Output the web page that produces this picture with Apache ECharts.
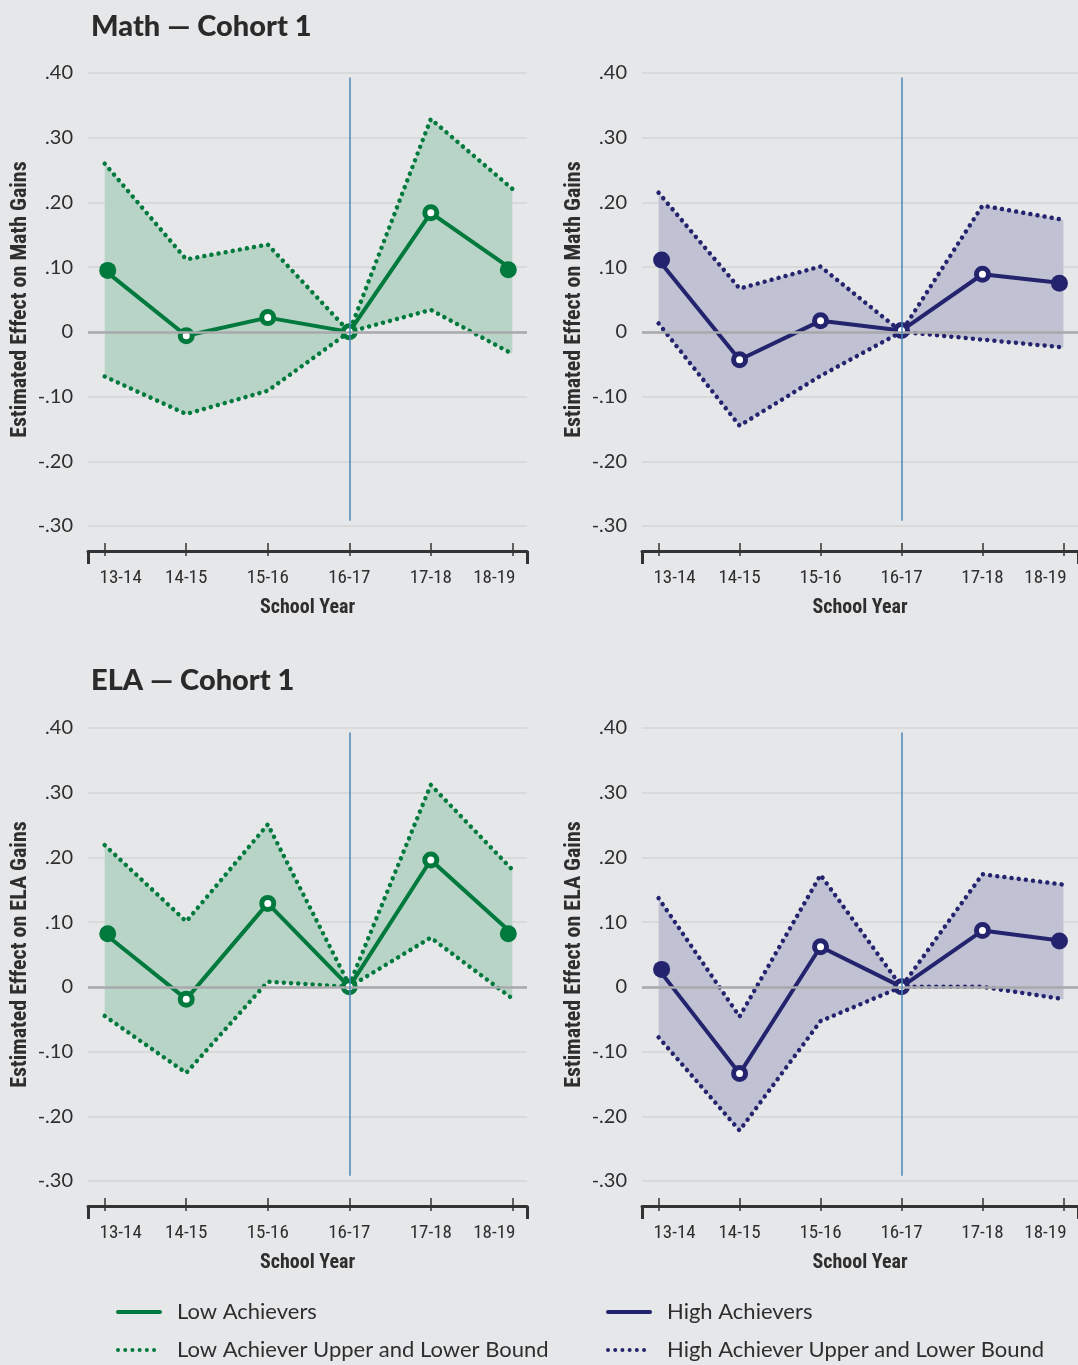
<!DOCTYPE html>
<html>
<head>
<meta charset="utf-8">
<script src="https://cdn.jsdelivr.net/npm/echarts@6/dist/echarts.min.js"></script>
<style>
html,body{margin:0;padding:0;background:#e6e7e9;}
#chart{width:1078px;height:1365px;}
</style>
</head>
<body>
<div id="chart"></div>
<script>
// ---------- DATA ----------
const categories = ['13-14', '14-15', '15-16', '16-17', '17-18', '18-19'];
const yTickValues = [-0.3, -0.2, -0.1, 0, 0.1, 0.2, 0.3, 0.4];
const yTickLabels = ['-.30', '-.20', '-.10', '0', '.10', '.20', '.30', '.40'];

const mathLowEst   = [0.095, -0.006, 0.022, 0.000, 0.184, 0.096];
const mathLowUpper = [0.260, 0.112, 0.135, 0.000, 0.329, 0.221];
const mathLowLower = [-0.069, -0.127, -0.091, 0.000, 0.034, -0.034];

const mathHighEst   = [0.111, -0.043, 0.017, 0.002, 0.089, 0.075];
const mathHighUpper = [0.215, 0.067, 0.101, 0.000, 0.195, 0.173];
const mathHighLower = [0.013, -0.145, -0.068, 0.000, -0.012, -0.024];

const elaLowEst   = [0.082, -0.019, 0.129, 0.000, 0.196, 0.082];
const elaLowUpper = [0.219, 0.101, 0.251, 0.003, 0.312, 0.181];
const elaLowLower = [-0.045, -0.133, 0.008, 0.000, 0.076, -0.018];

const elaHighEst   = [0.027, -0.134, 0.062, 0.000, 0.087, 0.071];
const elaHighUpper = [0.137, -0.046, 0.173, 0.000, 0.174, 0.158];
const elaHighLower = [-0.078, -0.222, -0.053, 0.000, 0.000, -0.019];

const titles = ['Math — Cohort 1', 'ELA — Cohort 1'];
const yNames = ['Estimated Effect on Math Gains', 'Estimated Effect on ELA Gains'];
const xName = 'School Year';
const legendLow = ['Low Achievers', 'Low Achiever Upper and Lower Bound'];
const legendHigh = ['High Achievers', 'High Achiever Upper and Lower Bound'];

// ---------- STYLE ----------
const GREEN = '#00793d', GREEN_BAND = '#b8d4c7';
const NAVY = '#24246e', NAVY_BAND = '#c0c1d3';
const TXT = '#2e2e2e';
const NARROW = '"Liberation Sans Narrow", "Roboto Condensed", "DejaVu Sans Condensed", sans-serif';
const XMIN = -0.205, XMAX = 5.18;
const DOTS = [0.01, 7.2];
const DOT_W = 4.5;

const panels = [
  {left: 88,  top: 73,  est: mathLowEst,  up: mathLowUpper,  lo: mathLowLower,  c: GREEN, band: GREEN_BAND, yName: yNames[0]},
  {left: 642, top: 73,  est: mathHighEst, up: mathHighUpper, lo: mathHighLower, c: NAVY,  band: NAVY_BAND,  yName: yNames[0]},
  {left: 88,  top: 728, est: elaLowEst,   up: elaLowUpper,   lo: elaLowLower,   c: GREEN, band: GREEN_BAND, yName: yNames[1]},
  {left: 642, top: 728, est: elaHighEst,  up: elaHighUpper,  lo: elaHighLower,  c: NAVY,  band: NAVY_BAND,  yName: yNames[1]}
];

const xs = categories.map((_, i) => i);
const fmtY = v => {
  const i = yTickValues.findIndex(t => Math.abs(t - v) < 1e-6);
  return i >= 0 ? yTickLabels[i] : '';
};
const fmtX = v => {
  const i = Math.round(v);
  if (i === 0) return '{first|' + categories[i] + '}';
  if (i === categories.length - 1) return '{last|' + categories[i] + '}';
  return '{mid|' + categories[i] + '}';
};
const xLabelFont = {fontFamily: NARROW, fontSize: 19, color: TXT};

const grid = [], xAxis = [], yAxis = [], series = [];
panels.forEach((p, g) => {
  grid.push({left: p.left, top: p.top, width: 439, height: 453, containLabel: false});
  const base = {gridIndex: g, type: 'value', min: XMIN, max: XMAX, position: 'bottom', offset: 25,
    splitLine: {show: false}};
  xAxis.push(Object.assign({}, base, {
    axisLine: {show: true, onZero: false, lineStyle: {color: '#333', width: 3}},
    axisTick: {show: true, customValues: xs, inside: true, length: 8, lineStyle: {color: '#333', width: 1.5}},
    axisLabel: {show: true, customValues: xs, formatter: fmtX, margin: 18,
      rich: {
        first: Object.assign({padding: [0, 0, 0, 32]}, xLabelFont),
        mid: Object.assign({}, xLabelFont),
        last: Object.assign({padding: [0, 36, 0, 0]}, xLabelFont)
      }},
    name: xName, nameLocation: 'middle', nameGap: 47,
    nameTextStyle: {fontFamily: NARROW, fontWeight: 'bold', fontSize: 20, color: TXT}
  }));
  xAxis.push(Object.assign({}, base, {
    axisLine: {show: false, onZero: false},
    axisTick: {show: true, customValues: xs, inside: false, length: 5, lineStyle: {color: '#333', width: 1.5}},
    axisLabel: {show: false}
  }));
  xAxis.push(Object.assign({}, base, {
    axisLine: {show: false, onZero: false},
    axisTick: {show: true, customValues: [XMIN, XMAX], inside: false, length: 13, lineStyle: {color: '#333', width: 3}},
    axisLabel: {show: false}
  }));
  yAxis.push({
    gridIndex: g, type: 'value', min: -0.3, max: 0.4, interval: 0.1,
    axisLine: {show: false}, axisTick: {show: false},
    splitLine: {show: true, lineStyle: {color: '#d3d4d6', width: 1.5}},
    axisLabel: {formatter: fmtY, margin: 15, fontFamily: 'Lato', fontSize: 20, color: TXT},
    name: p.yName, nameLocation: 'middle', nameGap: 57,
    nameTextStyle: {fontFamily: NARROW, fontWeight: 'bold', fontSize: 22, color: TXT}
  });
  const xi = g * 3;
  // confidence band polygon (upper edge then lower edge, via axis scales)
  series.push({type: 'custom', xAxisIndex: xi, yAxisIndex: g, z: 1, silent: true,
    data: [[0, p.up[0]]],
    renderItem: (params, api) => {
      const top = xs.map(i => api.coord([i, p.up[i]]));
      const bot = xs.map(i => api.coord([i, p.lo[i]])).reverse();
      return {type: 'polygon', shape: {points: top.concat(bot)}, style: {fill: p.band}, silent: true};
    }});
  // reference lines
  series.push({type: 'line', xAxisIndex: xi, yAxisIndex: g, data: [], silent: true, z: 2,
    markLine: {silent: true, symbol: ['none', 'none'], label: {show: false}, animation: false,
      data: [
        {yAxis: 0, lineStyle: {color: '#a8a9ab', width: 2.5, type: 'solid'}},
        [{coord: [3, 0.393], lineStyle: {color: '#4a86b4', width: 1.5, type: 'solid'}}, {coord: [3, -0.292]}]
      ]}});
  // bounds
  [p.up, p.lo].forEach(arr => {
    series.push({type: 'line', xAxisIndex: xi, yAxisIndex: g, data: xs.map(i => [i, arr[i]]),
      symbol: 'none', silent: true, z: 3,
      lineStyle: {color: p.c, width: DOT_W, type: DOTS, cap: 'round'}});
  });
  // estimate
  series.push({type: 'line', xAxisIndex: xi, yAxisIndex: g, z: 4, silent: true, showAllSymbol: true,
    lineStyle: {color: p.c, width: 4}, itemStyle: {color: p.c},
    data: xs.map(i => {
      const end = (i === 0 || i === xs.length - 1);
      return end
        ? {value: [i, p.est[i]], symbol: 'circle', symbolSize: 17, symbolOffset: [i === 0 ? 3 : -4, 0],
           itemStyle: {color: p.c, borderWidth: 0}}
        : {value: [i, p.est[i]], symbol: 'circle', symbolSize: 12,
           itemStyle: {color: '#ffffff', borderColor: p.c, borderWidth: 5}};
    })});
});

// legend-only series
series.push({name: legendLow[0], type: 'line', xAxisIndex: 0, yAxisIndex: 0, data: [], symbol: 'none',
  lineStyle: {color: GREEN, width: 4}, itemStyle: {color: GREEN}});
series.push({name: legendLow[1], type: 'line', xAxisIndex: 0, yAxisIndex: 0, data: [], symbol: 'none',
  lineStyle: {color: GREEN, width: DOT_W, type: DOTS, cap: 'round'}, itemStyle: {color: GREEN}});
series.push({name: legendHigh[0], type: 'line', xAxisIndex: 0, yAxisIndex: 0, data: [], symbol: 'none',
  lineStyle: {color: NAVY, width: 4}, itemStyle: {color: NAVY}});
series.push({name: legendHigh[1], type: 'line', xAxisIndex: 0, yAxisIndex: 0, data: [], symbol: 'none',
  lineStyle: {color: NAVY, width: DOT_W, type: DOTS, cap: 'round'}, itemStyle: {color: NAVY}});

const legendText = {fontFamily: 'Lato', fontSize: 22, color: TXT, lineHeight: 24, padding: [0, 0, 0, 12]};
const legendBase = {top: 1300, orient: 'vertical', padding: 0, height: 70, itemWidth: 42, itemHeight: 14, itemGap: 14,
  textStyle: legendText, selectedMode: false,
  lineStyle: {width: 4, cap: 'round'},
  itemStyle: {color: 'rgba(0,0,0,0)', borderWidth: 0, opacity: 0}};
const option = {
  backgroundColor: '#e6e7e9',
  animation: false,
  title: [
    {text: titles[0], left: 86, top: 7, textStyle: {fontFamily: 'Lato', fontWeight: 900, fontSize: 29, color: '#2a2a2a'}},
    {text: titles[1], left: 86, top: 661, textStyle: {fontFamily: 'Lato', fontWeight: 900, fontSize: 29, color: '#2a2a2a'}}
  ],
  legend: [
    Object.assign({left: 116, data: legendLow}, legendBase),
    Object.assign({left: 606, data: legendHigh}, legendBase)
  ],
  grid, xAxis, yAxis, series
};

const chart = echarts.init(document.getElementById('chart'), null, {renderer: 'canvas'});
chart.setOption(option);
</script>
</body>
</html>
